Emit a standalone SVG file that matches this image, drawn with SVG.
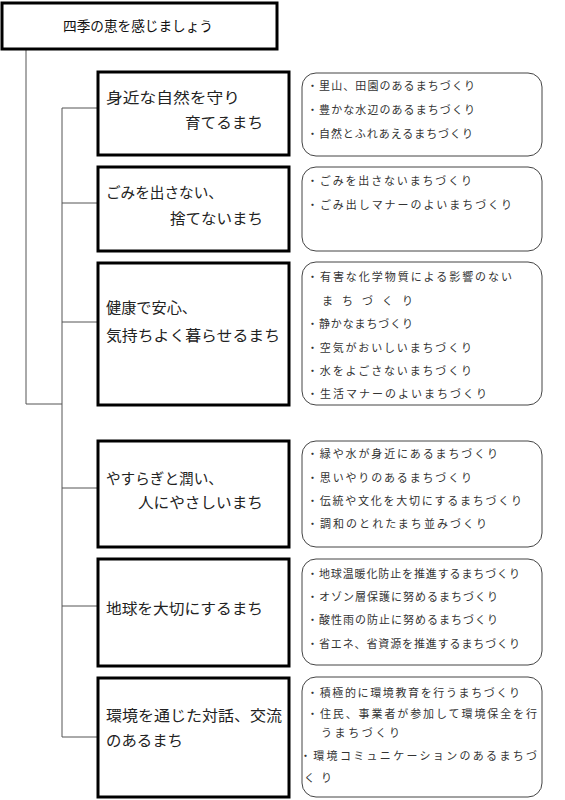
<svg xmlns="http://www.w3.org/2000/svg" width="565" height="800" viewBox="0 0 565 800">
<style>
.bg{fill:#fff}
.hd{fill:#fff;stroke:#000;stroke-width:3}
.box{fill:#fff;stroke:#000;stroke-width:3}
.lst{fill:#fff;stroke:#444;stroke-width:1}
.ln{fill:none;stroke:#555;stroke-width:1}
.ht{font-family:"Noto Sans CJK JP","Noto Sans CJK SC",sans-serif;font-size:14px;fill:#111}
.bt{font-family:"Noto Sans CJK JP","Noto Sans CJK SC",sans-serif;font-size:15px;fill:#222}
.it{font-family:"Noto Sans CJK JP","Noto Sans CJK SC",sans-serif;font-size:11px;fill:#333}
</style>
<rect class="bg" x="0" y="0" width="565" height="800"/>
<g id="connectors">
<polyline class="ln" points="26,49 26,404 62,404"/>
<line class="ln" x1="62" y1="108" x2="62" y2="737"/>
<line class="ln" x1="62" y1="108" x2="98" y2="108"/>
<line class="ln" x1="62" y1="203" x2="98" y2="203"/>
<line class="ln" x1="62" y1="322" x2="98" y2="322"/>
<line class="ln" x1="62" y1="488" x2="98" y2="488"/>
<line class="ln" x1="62" y1="606" x2="98" y2="606"/>
<line class="ln" x1="62" y1="737" x2="98" y2="737"/>
</g>
<g id="header">
<rect class="hd" x="2" y="3" width="275" height="46"/>
<text class="ht" x="63" y="31" textLength="150" lengthAdjust="spacingAndGlyphs">四季の恵を感じましょう</text>
</g>
<g id="node1">
<rect class="box" x="98" y="72" width="191" height="83"/>
<text class="bt" x="106" y="103" textLength="134" lengthAdjust="spacingAndGlyphs">身近な自然を守り</text>
<text class="bt" x="185" y="128" textLength="78" lengthAdjust="spacingAndGlyphs">育てるまち</text>
</g>
<g id="node2">
<rect class="box" x="98" y="167" width="191" height="84"/>
<text class="bt" x="106" y="198" textLength="117" lengthAdjust="spacingAndGlyphs">ごみを出さない、</text>
<text class="bt" x="170" y="224" textLength="93" lengthAdjust="spacingAndGlyphs">捨てないまち</text>
</g>
<g id="node3">
<rect class="box" x="98" y="263" width="191" height="142"/>
<text class="bt" x="106" y="313" textLength="91" lengthAdjust="spacingAndGlyphs">健康で安心、</text>
<text class="bt" x="106" y="341" textLength="174" lengthAdjust="spacingAndGlyphs">気持ちよく暮らせるまち</text>
</g>
<g id="node4">
<rect class="box" x="98" y="441" width="191" height="106"/>
<text class="bt" x="106" y="484" textLength="117" lengthAdjust="spacingAndGlyphs">やすらぎと潤い、</text>
<text class="bt" x="138" y="508" textLength="125" lengthAdjust="spacingAndGlyphs">人にやさしいまち</text>
</g>
<g id="node5">
<rect class="box" x="98" y="559" width="191" height="107"/>
<text class="bt" x="106" y="614" textLength="157" lengthAdjust="spacingAndGlyphs">地球を大切にするまち</text>
</g>
<g id="node6">
<rect class="box" x="98" y="678" width="191" height="119"/>
<text class="bt" x="106" y="721" textLength="176" lengthAdjust="spacingAndGlyphs">環境を通じた対話、交流</text>
<text class="bt" x="106" y="746" textLength="77" lengthAdjust="spacingAndGlyphs">のあるまち</text>
</g>
<g id="list1">
<rect class="lst" x="302" y="73" width="240" height="83" rx="14"/>
<text class="it" x="307" y="90" textLength="168" lengthAdjust="spacing">・里山、田園のあるまちづくり</text>
<text class="it" x="307" y="114" textLength="168" lengthAdjust="spacing">・豊かな水辺のあるまちづくり</text>
<text class="it" x="307" y="138" textLength="166" lengthAdjust="spacing">・自然とふれあえるまちづくり</text>
</g>
<g id="list2">
<rect class="lst" x="302" y="167" width="240" height="84" rx="14"/>
<text class="it" x="307" y="185" textLength="165" lengthAdjust="spacing">・ごみを出さないまちづくり</text>
<text class="it" x="307" y="209" textLength="205" lengthAdjust="spacing">・ごみ出しマナーのよいまちづくり</text>
</g>
<g id="list3">
<rect class="lst" x="302" y="262" width="240" height="143" rx="14"/>
<text class="it" x="307" y="281" textLength="205" lengthAdjust="spacing">・有害な化学物質による影響のない</text>
<text class="it" x="322" y="305" textLength="91" lengthAdjust="spacing">まちづくり</text>
<text class="it" x="307" y="328" textLength="106" lengthAdjust="spacing">・静かなまちづくり</text>
<text class="it" x="307" y="352" textLength="165" lengthAdjust="spacing">・空気がおいしいまちづくり</text>
<text class="it" x="307" y="375" textLength="165" lengthAdjust="spacing">・水をよごさないまちづくり</text>
<text class="it" x="307" y="398" textLength="180" lengthAdjust="spacing">・生活マナーのよいまちづくり</text>
</g>
<g id="list4">
<rect class="lst" x="302" y="441" width="240" height="106" rx="14"/>
<text class="it" x="307" y="458" textLength="191" lengthAdjust="spacing">・緑や水が身近にあるまちづくり</text>
<text class="it" x="307" y="482" textLength="165" lengthAdjust="spacing">・思いやりのあるまちづくり</text>
<text class="it" x="307" y="505" textLength="215" lengthAdjust="spacing">・伝統や文化を大切にするまちづくり</text>
<text class="it" x="307" y="528" textLength="180" lengthAdjust="spacing">・調和のとれたまち並みづくり</text>
</g>
<g id="list5">
<rect class="lst" x="302" y="559" width="240" height="106" rx="14"/>
<text class="it" x="307" y="578" textLength="213" lengthAdjust="spacing">・地球温暖化防止を推進するまちづくり</text>
<text class="it" x="307" y="601" textLength="191" lengthAdjust="spacing">・オゾン層保護に努めるまちづくり</text>
<text class="it" x="307" y="624" textLength="191" lengthAdjust="spacing">・酸性雨の防止に努めるまちづくり</text>
<text class="it" x="307" y="648" textLength="213" lengthAdjust="spacing">・省エネ、省資源を推進するまちづくり</text>
</g>
<g id="list6">
<rect class="lst" x="302" y="677" width="240" height="120" rx="14"/>
<text class="it" x="307" y="697" textLength="213" lengthAdjust="spacing">・積極的に環境教育を行うまちづくり</text>
<text class="it" x="307" y="718" textLength="230" lengthAdjust="spacing">・住民、事業者が参加して環境保全を行</text>
<text class="it" x="321" y="737" textLength="79" lengthAdjust="spacing">うまちづくり</text>
<text class="it" x="300" y="760" textLength="237" lengthAdjust="spacing">・環境コミュニケーションのあるまちづ</text>
<text class="it" x="304" y="782" textLength="28" lengthAdjust="spacing">くり</text>
</g>
</svg>
